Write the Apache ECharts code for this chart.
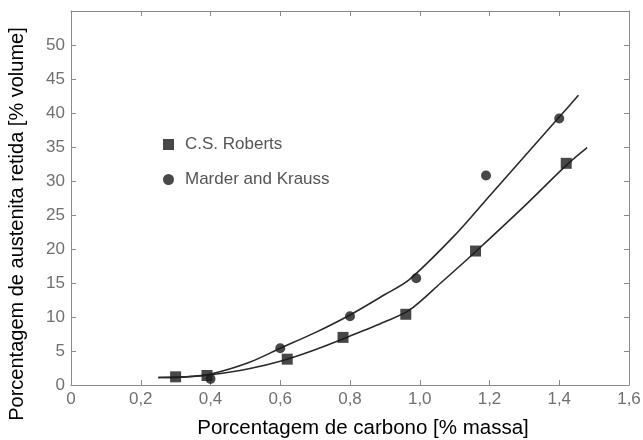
<!DOCTYPE html>
<html>
<head>
<meta charset="utf-8">
<script src="https://cdn.jsdelivr.net/npm/echarts@6/dist/echarts.min.js"></script>
<style>html,body{margin:0;padding:0;background:#fff}#c{width:643px;height:440px}</style>
</head>
<body>
<div id="c"></div>
<script>
// Data
const robertsPoints = [[0.30,1.2],[0.39,1.4],[0.62,3.8],[0.78,7.0],[0.96,10.4],[1.16,19.7],[1.42,32.6]];
const marderPoints = [[0.40,0.9],[0.60,5.4],[0.80,10.1],[0.99,15.7],[1.19,30.8],[1.40,39.2]];
const robertsCurve = [[0.25,1.1],[0.33,1.2],[0.40,1.5],[0.51,2.4],[0.60,3.5],[0.70,5.2],[0.80,7.2],[0.90,9.3],[0.97,11.0],[1.06,15.0],[1.16,19.6],[1.30,26.3],[1.42,32.3],[1.48,34.9]];
const marderCurve = [[0.25,1.1],[0.33,1.2],[0.40,1.6],[0.51,3.3],[0.60,5.4],[0.70,7.7],[0.80,10.3],[0.90,13.3],[0.97,15.5],[1.10,22.0],[1.20,27.8],[1.30,33.6],[1.40,39.4],[1.455,42.6]];
const seriesNames = ['C.S. Roberts','Marder and Krauss'];
const xTitle = 'Porcentagem de carbono [% massa]';
const yTitle = 'Porcentagem de austenita retida [% volume]';

const chart = echarts.init(document.getElementById('c'));
const axisGray = '#8a8a8a';
const labelGray = '#707070';
const font = 'Liberation Sans, Arial, sans-serif';
const lineCfg = {show: true, onZero: false, lineStyle: {color: axisGray, width: 1}};
const tickCfg = {show: true, inside: true, length: 5, lineStyle: {color: axisGray}};
chart.setOption({
  animation: false,
  backgroundColor: '#fff',
  grid: {left: 71, right: 14, top: 11, bottom: 55, containLabel: false, outerBoundsMode: 'none'},
  legend: {
    orient: 'vertical', left: 158, top: 131, itemGap: 18,
    itemWidth: 11, itemHeight: 11,
    data: [{name: seriesNames[0], icon: 'rect'}, {name: seriesNames[1], icon: 'circle'}],
    textStyle: {color: '#555', fontSize: 17, fontFamily: font, padding: [0,0,0,6]}
  },
  xAxis: [{
    type: 'value', min: 0, max: 1.6, interval: 0.2, position: 'bottom',
    name: xTitle, nameLocation: 'middle', nameGap: 33,
    nameTextStyle: {color: '#000', fontSize: 20.5, fontFamily: font, padding: [0,0,0,26]},
    axisLine: lineCfg, axisTick: tickCfg,
    axisLabel: {color: labelGray, fontSize: 17, fontFamily: font, margin: 6,
      formatter: v => v === 0 ? '0' : v.toFixed(1).replace('.', ',')},
    splitLine: {show: false}
  }, {
    type: 'value', min: 0, max: 1.6, interval: 0.2, position: 'top',
    axisLine: lineCfg, axisTick: tickCfg,
    axisLabel: {show: false}, splitLine: {show: false}
  }],
  yAxis: [{
    type: 'value', min: 0, max: 55, interval: 5, position: 'left',
    name: yTitle, nameLocation: 'middle', nameGap: 44,
    nameTextStyle: {color: '#000', fontSize: 20, fontFamily: font, padding: [0,52,0,0]},
    axisLine: lineCfg, axisTick: tickCfg,
    axisLabel: {color: labelGray, fontSize: 17, fontFamily: font, margin: 6, showMaxLabel: false},
    splitLine: {show: false}
  }, {
    type: 'value', min: 0, max: 55, interval: 5, position: 'right',
    axisLine: lineCfg, axisTick: tickCfg,
    axisLabel: {show: false}, splitLine: {show: false}
  }],
  series: [
    {type: 'line', data: robertsCurve, smooth: 0.3, showSymbol: false, silent: true,
      lineStyle: {color: '#2a2a2a', width: 1.6}, z: 2},
    {type: 'line', data: marderCurve, smooth: 0.3, showSymbol: false, silent: true,
      lineStyle: {color: '#2a2a2a', width: 1.6}, z: 2},
    {name: seriesNames[0], type: 'scatter', data: robertsPoints, symbol: 'rect', symbolSize: 11,
      itemStyle: {color: '#1a1a1a'}, z: 3},
    {name: seriesNames[1], type: 'scatter', data: marderPoints, symbol: 'circle', symbolSize: 10,
      itemStyle: {color: '#1a1a1a'}, z: 3}
  ]
});
</script>
</body>
</html>
